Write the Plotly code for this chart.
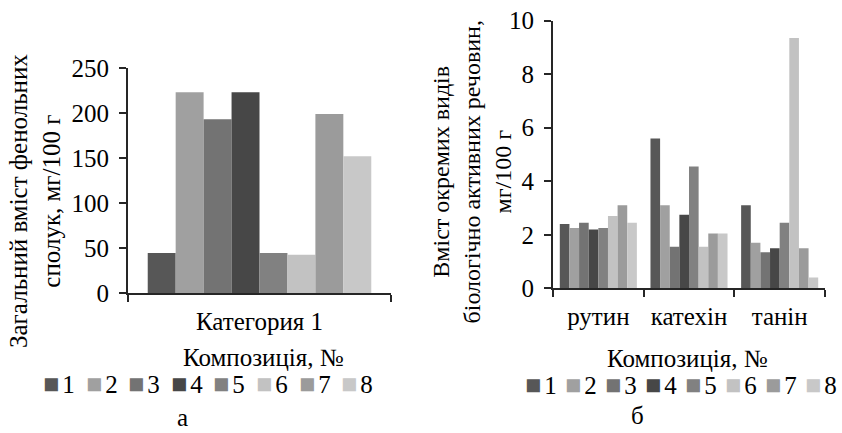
import plotly.graph_objects as go

# ---------------- data ----------------
series_names = ['1', '2', '3', '4', '5', '6', '7', '8']
series_colors = ['#575757', '#a0a0a0', '#737373', '#474747',
                 '#818181', '#c2c2c2', '#9b9b9b', '#c8c8c8']

left_categories = ['Категория 1']
left_values = [44.5, 223, 193, 223, 44.5, 42.5, 199, 152]

right_categories = ['рутин', 'катехін', 'танін']
rutin_values = [2.4, 2.25, 2.45, 2.2, 2.25, 2.7, 3.1, 2.45]
catechin_values = [5.6, 3.1, 1.55, 2.75, 4.55, 1.55, 2.05, 2.05]
tannin_values = [3.1, 1.7, 1.35, 1.5, 2.45, 9.35, 1.5, 0.4]

left_ytitle = 'Загальний вміст фенольних<br>сполук, мг/100 г'
right_ytitle = 'Вміст окремих видів<br>біологічно активних речовин,<br>мг/100 г'
xtitle = 'Композиція, №'
panel_labels = ['а', 'б']

# ---------------- layout helpers ----------------
W, H = 842, 433
FONT = 'Liberation Serif'
FS = 25
AX = '#262626'


def px(x):
    return x / W


def py(y):
    return 1 - y / H


fig = go.Figure()

for i, name in enumerate(series_names):
    fig.add_trace(go.Bar(
        x=left_categories, y=[left_values[i]], name=name,
        marker=dict(color=series_colors[i], line=dict(width=0)),
        xaxis='x', yaxis='y', showlegend=False, hoverinfo='skip'))
    fig.add_trace(go.Bar(
        x=right_categories,
        y=[rutin_values[i], catechin_values[i], tannin_values[i]],
        name=name,
        marker=dict(color=series_colors[i], line=dict(width=0)),
        xaxis='x2', yaxis='y2', showlegend=False, hoverinfo='skip'))

axis_common = dict(showline=True, linecolor=AX, linewidth=2,
                   ticks='outside', ticklen=7, tickwidth=2, tickcolor=AX,
                   showgrid=False, zeroline=False, automargin=False,
                   tickfont=dict(family=FONT, size=FS, color='black'))

fig.update_layout(
    template='none',
    width=W, height=H,
    margin=dict(l=0, r=0, t=0, b=0, pad=0),
    paper_bgcolor='white', plot_bgcolor='white',
    font=dict(family=FONT, size=FS, color='black'),
    barmode='group', bargap=0.15, bargroupgap=0,
    showlegend=False,
    xaxis=dict(domain=[px(128), px(391)], anchor='y', type='category',
               tickson='boundaries', ticklabelstandoff=5, **axis_common),
    yaxis=dict(domain=[py(293), py(68)], anchor='x', range=[0, 250],
               dtick=50, ticklabelstandoff=5, **axis_common),
    xaxis2=dict(domain=[px(553), px(825)], anchor='y2', type='category',
                tickson='boundaries', ticklabelstandoff=5, **axis_common),
    yaxis2=dict(domain=[py(288.3), py(20.7)], anchor='x2', range=[0, 10],
                dtick=2, ticklabelstandoff=5, **axis_common),
)

ann = []
# y-axis titles
ann.append(dict(text=left_ytitle, x=px(35), y=py(201), xref='paper', yref='paper',
                textangle=-90, showarrow=False, xanchor='center', yanchor='middle',
                font=dict(family=FONT, size=FS)))
ann.append(dict(text=right_ytitle, x=px(471.5), y=py(172), xref='paper', yref='paper',
                textangle=-90, showarrow=False, xanchor='center', yanchor='middle',
                font=dict(family=FONT, size=24)))
# x-axis titles
ann.append(dict(text=xtitle, x=px(263), y=py(357), xref='paper', yref='paper',
                showarrow=False, xanchor='center', yanchor='middle',
                font=dict(family=FONT, size=FS)))
ann.append(dict(text=xtitle, x=px(687), y=py(358), xref='paper', yref='paper',
                showarrow=False, xanchor='center', yanchor='middle',
                font=dict(family=FONT, size=FS)))
# panel labels
ann.append(dict(text=panel_labels[0], x=px(182), y=py(417), xref='paper', yref='paper',
                showarrow=False, xanchor='center', yanchor='middle',
                font=dict(family=FONT, size=FS)))
ann.append(dict(text=panel_labels[1], x=px(637), y=py(415), xref='paper', yref='paper',
                showarrow=False, xanchor='center', yanchor='middle',
                font=dict(family=FONT, size=FS)))

# legends (one row each, built from series names / colours)
legend_rows = [(41, 42.6, 384), (523, 40.0, 385)]
for start, step, yc in legend_rows:
    for i, name in enumerate(series_names):
        ann.append(dict(
            text=(f'<span style="color:{series_colors[i]};font-size:27px">■</span>'
                  f'<span style="font-size:12px"> </span>{name}'),
            x=px(start + i * step), y=py(yc), xref='paper', yref='paper',
            showarrow=False, xanchor='left', yanchor='middle',
            font=dict(family=FONT, size=FS, color='black')))

fig.update_layout(annotations=ann)
fig.write_html('out.html', config={'displayModeBar': False, 'staticPlot': True},
               post_script="document.body.style.margin='0';document.body.style.overflow='hidden';")
